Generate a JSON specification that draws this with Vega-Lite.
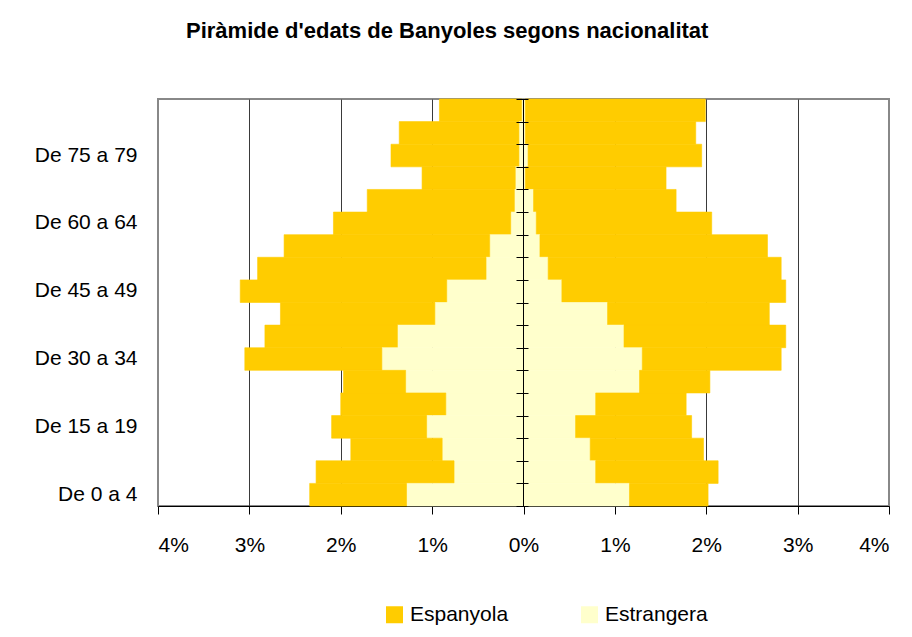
{
  "$schema": "https://vega.github.io/schema/vega-lite/v6.json",
  "autosize": "none",
  "width": 731,
  "height": 407,
  "padding": {"left": 158, "top": 99, "right": 23, "bottom": 131},
  "background": "white",
  "config": {
    "font": "Liberation Sans",
    "view": {"stroke": "#888888", "strokeWidth": 2},
    "axis": {"labelFont": "Liberation Sans", "labelColor": "#000000", "labelFontSize": 21}
  },
  "title": {
    "text": "Piràmide d'edats de Banyoles segons nacionalitat",
    "font": "Liberation Sans",
    "fontSize": 22,
    "fontWeight": "bold",
    "color": "#000000",
    "anchor": "start",
    "frame": "group",
    "dx": 28,
    "baseline": "alphabetic",
    "offset": 39
  },
  "data": {
    "values": [
      {"a": "De 85 i més", "s": "Homes", "n": "Estrangera", "v": -0.02},
      {"a": "De 85 i més", "s": "Homes", "n": "Espanyola", "v": -0.90},
      {"a": "De 80 a 84", "s": "Homes", "n": "Estrangera", "v": -0.05},
      {"a": "De 80 a 84", "s": "Homes", "n": "Espanyola", "v": -1.31},
      {"a": "De 75 a 79", "s": "Homes", "n": "Estrangera", "v": -0.05},
      {"a": "De 75 a 79", "s": "Homes", "n": "Espanyola", "v": -1.40},
      {"a": "De 70 a 74", "s": "Homes", "n": "Estrangera", "v": -0.09},
      {"a": "De 70 a 74", "s": "Homes", "n": "Espanyola", "v": -1.02},
      {"a": "De 65 a 69", "s": "Homes", "n": "Estrangera", "v": -0.10},
      {"a": "De 65 a 69", "s": "Homes", "n": "Espanyola", "v": -1.61},
      {"a": "De 60 a 64", "s": "Homes", "n": "Estrangera", "v": -0.14},
      {"a": "De 60 a 64", "s": "Homes", "n": "Espanyola", "v": -1.94},
      {"a": "De 55 a 59", "s": "Homes", "n": "Estrangera", "v": -0.37},
      {"a": "De 55 a 59", "s": "Homes", "n": "Espanyola", "v": -2.25},
      {"a": "De 50 a 54", "s": "Homes", "n": "Estrangera", "v": -0.41},
      {"a": "De 50 a 54", "s": "Homes", "n": "Espanyola", "v": -2.50},
      {"a": "De 45 a 49", "s": "Homes", "n": "Estrangera", "v": -0.84},
      {"a": "De 45 a 49", "s": "Homes", "n": "Espanyola", "v": -2.26},
      {"a": "De 40 a 44", "s": "Homes", "n": "Estrangera", "v": -0.97},
      {"a": "De 40 a 44", "s": "Homes", "n": "Espanyola", "v": -1.69},
      {"a": "De 35 a 39", "s": "Homes", "n": "Estrangera", "v": -1.38},
      {"a": "De 35 a 39", "s": "Homes", "n": "Espanyola", "v": -1.45},
      {"a": "De 30 a 34", "s": "Homes", "n": "Estrangera", "v": -1.55},
      {"a": "De 30 a 34", "s": "Homes", "n": "Espanyola", "v": -1.50},
      {"a": "De 25 a 29", "s": "Homes", "n": "Estrangera", "v": -1.29},
      {"a": "De 25 a 29", "s": "Homes", "n": "Espanyola", "v": -0.68},
      {"a": "De 20 a 24", "s": "Homes", "n": "Estrangera", "v": -0.85},
      {"a": "De 20 a 24", "s": "Homes", "n": "Espanyola", "v": -1.15},
      {"a": "De 15 a 19", "s": "Homes", "n": "Estrangera", "v": -1.06},
      {"a": "De 15 a 19", "s": "Homes", "n": "Espanyola", "v": -1.04},
      {"a": "De 10 a 14", "s": "Homes", "n": "Estrangera", "v": -0.89},
      {"a": "De 10 a 14", "s": "Homes", "n": "Espanyola", "v": -1.00},
      {"a": "De 5 a 9", "s": "Homes", "n": "Estrangera", "v": -0.76},
      {"a": "De 5 a 9", "s": "Homes", "n": "Espanyola", "v": -1.51},
      {"a": "De 0 a 4", "s": "Homes", "n": "Estrangera", "v": -1.28},
      {"a": "De 0 a 4", "s": "Homes", "n": "Espanyola", "v": -1.06},
      {"a": "De 85 i més", "s": "Dones", "n": "Estrangera", "v": 0.02},
      {"a": "De 85 i més", "s": "Dones", "n": "Espanyola", "v": 1.97},
      {"a": "De 80 a 84", "s": "Dones", "n": "Estrangera", "v": 0.02},
      {"a": "De 80 a 84", "s": "Dones", "n": "Espanyola", "v": 1.865},
      {"a": "De 75 a 79", "s": "Dones", "n": "Estrangera", "v": 0.05},
      {"a": "De 75 a 79", "s": "Dones", "n": "Espanyola", "v": 1.90},
      {"a": "De 70 a 74", "s": "Dones", "n": "Estrangera", "v": 0.02},
      {"a": "De 70 a 74", "s": "Dones", "n": "Espanyola", "v": 1.54},
      {"a": "De 65 a 69", "s": "Dones", "n": "Estrangera", "v": 0.11},
      {"a": "De 65 a 69", "s": "Dones", "n": "Espanyola", "v": 1.56},
      {"a": "De 60 a 64", "s": "Dones", "n": "Estrangera", "v": 0.14},
      {"a": "De 60 a 64", "s": "Dones", "n": "Espanyola", "v": 1.92},
      {"a": "De 55 a 59", "s": "Dones", "n": "Estrangera", "v": 0.18},
      {"a": "De 55 a 59", "s": "Dones", "n": "Espanyola", "v": 2.49},
      {"a": "De 50 a 54", "s": "Dones", "n": "Estrangera", "v": 0.27},
      {"a": "De 50 a 54", "s": "Dones", "n": "Espanyola", "v": 2.55},
      {"a": "De 45 a 49", "s": "Dones", "n": "Estrangera", "v": 0.42},
      {"a": "De 45 a 49", "s": "Dones", "n": "Espanyola", "v": 2.45},
      {"a": "De 40 a 44", "s": "Dones", "n": "Estrangera", "v": 0.92},
      {"a": "De 40 a 44", "s": "Dones", "n": "Espanyola", "v": 1.77},
      {"a": "De 35 a 39", "s": "Dones", "n": "Estrangera", "v": 1.10},
      {"a": "De 35 a 39", "s": "Dones", "n": "Espanyola", "v": 1.77},
      {"a": "De 30 a 34", "s": "Dones", "n": "Estrangera", "v": 1.30},
      {"a": "De 30 a 34", "s": "Dones", "n": "Espanyola", "v": 1.52},
      {"a": "De 25 a 29", "s": "Dones", "n": "Estrangera", "v": 1.27},
      {"a": "De 25 a 29", "s": "Dones", "n": "Espanyola", "v": 0.77},
      {"a": "De 20 a 24", "s": "Dones", "n": "Estrangera", "v": 0.79},
      {"a": "De 20 a 24", "s": "Dones", "n": "Espanyola", "v": 0.99},
      {"a": "De 15 a 19", "s": "Dones", "n": "Estrangera", "v": 0.57},
      {"a": "De 15 a 19", "s": "Dones", "n": "Espanyola", "v": 1.27},
      {"a": "De 10 a 14", "s": "Dones", "n": "Estrangera", "v": 0.73},
      {"a": "De 10 a 14", "s": "Dones", "n": "Espanyola", "v": 1.24},
      {"a": "De 5 a 9", "s": "Dones", "n": "Estrangera", "v": 0.79},
      {"a": "De 5 a 9", "s": "Dones", "n": "Espanyola", "v": 1.34},
      {"a": "De 0 a 4", "s": "Dones", "n": "Estrangera", "v": 1.16},
      {"a": "De 0 a 4", "s": "Dones", "n": "Espanyola", "v": 0.86}
    ]
  },
  "resolve": {"axis": {"y": "independent"}},
  "layer": [
    {
      "mark": {"type": "bar", "strokeWidth": 0.6},
      "encoding": {
        "y": {
          "field": "a",
          "type": "nominal",
          "sort": ["De 85 i més","De 80 a 84","De 75 a 79","De 70 a 74","De 65 a 69","De 60 a 64","De 55 a 59","De 50 a 54","De 45 a 49","De 40 a 44","De 35 a 39","De 30 a 34","De 25 a 29","De 20 a 24","De 15 a 19","De 10 a 14","De 5 a 9","De 0 a 4"],
          "scale": {"paddingInner": 0, "paddingOuter": 0},
          "axis": {
            "orient": "left",
            "title": null,
            "ticks": false,
            "domain": false,
            "labelPadding": 21,
            "labelExpr": "indexof(['De 0 a 4','De 15 a 19','De 30 a 34','De 45 a 49','De 60 a 64','De 75 a 79'], datum.value) >= 0 ? datum.value : ''"
          }
        },
        "x": {
          "field": "v",
          "type": "quantitative",
          "stack": "zero",
          "scale": {"domain": [-4, 4], "nice": false},
          "axis": {
            "title": null,
            "values": [-4, -3, -2, -1, 0, 1, 2, 3, 4],
            "labelExpr": "abs(datum.value) + '%'",
            "grid": true,
            "gridColor": {"condition": {"test": "abs(datum.value) == 4", "value": "transparent"}, "value": "#3a3a3a"},
            "gridWidth": 1,
            "domainColor": "#000000",
            "tickColor": "#000000",
            "tickSize": 8,
            "labelPadding": 20
          }
        },
        "color": {
          "field": "n",
          "type": "nominal",
          "scale": {"domain": ["Espanyola", "Estrangera"], "range": ["#FFCC00", "#FFFFCC"]},
          "legend": {
            "title": null,
            "orient": "none",
            "direction": "horizontal",
            "legendX": 226,
            "legendY": 505,
            "symbolType": "square",
            "symbolSize": 289,
            "symbolStrokeWidth": 0,
            "labelFontSize": 21,
            "labelFont": "Liberation Sans",
            "labelColor": "#000000",
            "labelOffset": 5,
            "columnPadding": 70,
            "padding": 0
          }
        },
        "stroke": {
          "field": "n",
          "type": "nominal",
          "scale": {"domain": ["Espanyola", "Estrangera"], "range": ["#FFCC00", "#FFFFCC"]},
          "legend": null
        },
        "order": {"field": "n", "sort": "descending"}
      }
    },
    {
      "mark": {"type": "rule", "color": "#000000", "strokeWidth": 1, "opacity": 0},
      "encoding": {
        "x": {"datum": 0, "type": "quantitative"},
        "y": {
          "field": "a",
          "type": "nominal",
          "sort": ["De 85 i més","De 80 a 84","De 75 a 79","De 70 a 74","De 65 a 69","De 60 a 64","De 55 a 59","De 50 a 54","De 45 a 49","De 40 a 44","De 35 a 39","De 30 a 34","De 25 a 29","De 20 a 24","De 15 a 19","De 10 a 14","De 5 a 9","De 0 a 4"],
          "axis": {
            "orient": "right",
            "offset": -373,
            "title": null,
            "labels": false,
            "domain": false,
            "ticks": true,
            "tickBand": "extent",
            "tickSize": 12,
            "tickColor": "#000000",
            "grid": false,
            "zindex": 2
          }
        }
      }
    },
    {
      "mark": {"type": "rule", "color": "#000000", "strokeWidth": 1},
      "encoding": {
        "x": {"datum": 0, "type": "quantitative"}
      }
    }
  ]
}
